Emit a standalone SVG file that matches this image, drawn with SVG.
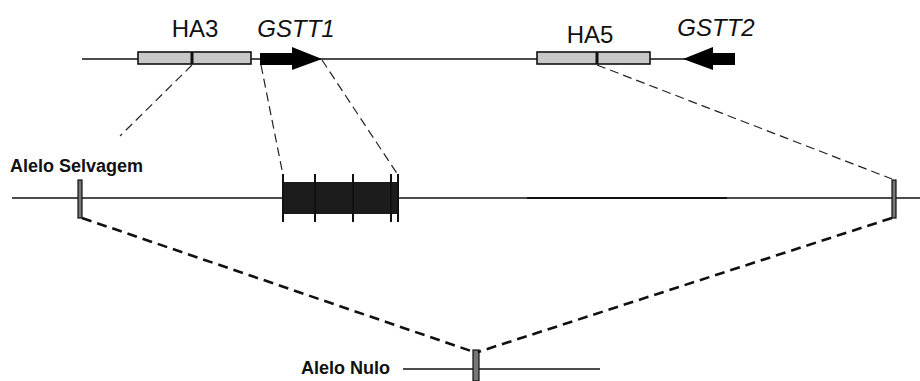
<svg xmlns="http://www.w3.org/2000/svg" width="920" height="381" viewBox="0 0 920 381">
<style>
.line{stroke:#111;stroke-width:1.6;fill:none}
.ha{fill:#c8c8c8;stroke:#111;stroke-width:1.6}
.thin{stroke:#222;stroke-width:1.2;stroke-dasharray:9 5;fill:none}
.bold{stroke:#111;stroke-width:2.6;stroke-dasharray:10 6;fill:none}
.lbl{font-family:"Liberation Sans",Arial,sans-serif;fill:#111}
.big{font-size:24px}
.small{font-size:18px;font-weight:bold}
.mark{fill:#777;stroke:#111;stroke-width:1.2}
.tick{stroke:#111;stroke-width:2}
</style>
<rect width="920" height="381" fill="#fff"/>
<g id="top-chromosome">
<line class="line" x1="82" y1="59" x2="690" y2="59"/>
</g>
<g id="HA3">
<rect class="ha" x="138" y="52" width="113" height="12"/>
<line x1="192" y1="52" x2="192" y2="64" stroke="#111" stroke-width="3"/>
<text class="lbl big" x="195" y="37" text-anchor="middle">HA3</text>
</g>
<g id="GSTT1">
<polygon points="260,53 292,53 292,47 322,59 292,70 292,65 260,65" fill="#000"/>
<text class="lbl big" x="296" y="37" font-style="italic" text-anchor="middle">GSTT1</text>
</g>
<g id="HA5">
<rect class="ha" x="537" y="52" width="113" height="12"/>
<line x1="597" y1="52" x2="597" y2="64" stroke="#111" stroke-width="3"/>
<text class="lbl big" x="590" y="43" text-anchor="middle">HA5</text>
</g>
<g id="GSTT2">
<polygon points="683,59 713,47 713,53 735,53 735,65 713,65 713,70" fill="#000"/>
<text class="lbl big" x="716" y="36" font-style="italic" text-anchor="middle">GSTT2</text>
</g>
<g id="wild-allele">
<line class="line" x1="12" y1="198" x2="920" y2="198"/>
<line x1="527" y1="198" x2="727" y2="198" stroke="#111" stroke-width="2.2"/>
<text class="lbl small" x="10" y="172">Alelo Selvagem</text>
<rect class="mark" x="78" y="180" width="4" height="38"/>
<rect class="mark" x="892" y="180" width="4" height="38"/>
<rect x="283" y="182" width="114" height="32" fill="#1c1c1c"/>
<line class="tick" x1="283" y1="174" x2="283" y2="222"/>
<line class="tick" x1="315" y1="174" x2="315" y2="222"/>
<line class="tick" x1="353" y1="174" x2="353" y2="222"/>
<line class="tick" x1="391" y1="174" x2="391" y2="222"/>
<line class="tick" x1="398" y1="174" x2="398" y2="222"/>
</g>
<g id="null-allele">
<line class="line" x1="403" y1="369" x2="600" y2="369"/>
<rect class="mark" x="473" y="350" width="6" height="31"/>
<text class="lbl small" x="301" y="374">Alelo Nulo</text>
</g>
<g id="connectors">
<line class="thin" x1="192" y1="65" x2="120" y2="136"/>
<line class="thin" x1="261" y1="65" x2="283" y2="175"/>
<line class="thin" x1="322" y1="60" x2="398" y2="175"/>
<line class="thin" x1="597" y1="65" x2="892" y2="179"/>
<line class="bold" x1="82" y1="218" x2="474" y2="352"/>
<line class="bold" x1="892" y1="218" x2="478" y2="352"/>
</g>
</svg>
